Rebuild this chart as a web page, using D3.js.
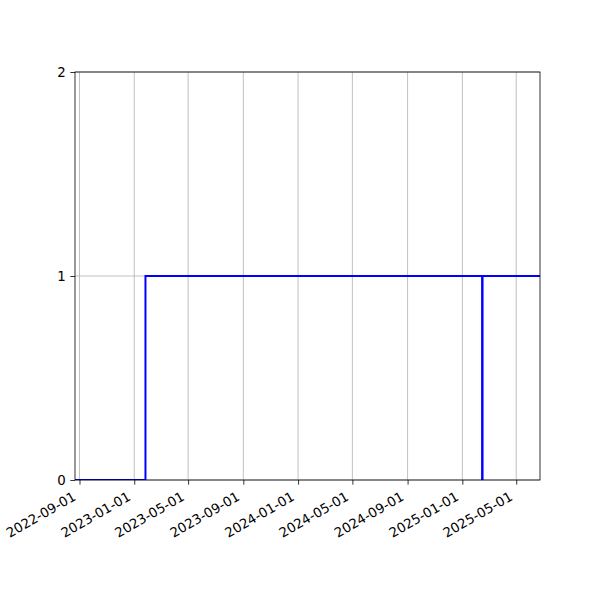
<!DOCTYPE html>
<html>
<head>
<meta charset="utf-8">
<script src="https://cdn.jsdelivr.net/npm/d3@7"></script>
<style>
body { margin: 0; background: #fff; }
text { font-family: "DejaVu Sans", sans-serif; }
</style>
</head>
<body>
<svg id="chart" width="600" height="600"></svg>
<script>
// Data
const dates = ["2022-08-22", "2023-01-26", "2025-02-14", "2025-02-15", "2025-06-23"];
const values = [0, 1, 0, 1, 1];
const xTickLabels = ["2022-09-01", "2023-01-01", "2023-05-01", "2023-09-01", "2024-01-01",
                     "2024-05-01", "2024-09-01", "2025-01-01", "2025-05-01"];
const yTicks = [0, 1, 2];

const parse = d3.utcParse("%Y-%m-%d");
const data = dates.map((d, i) => ({ date: parse(d), value: values[i] }));

const margin = { left: 75, right: 60, top: 72, bottom: 120 };
const W = 600, H = 600;
const iw = W - margin.left - margin.right;
const ih = H - margin.top - margin.bottom;

const svg = d3.select("#chart");
const g = svg.append("g").attr("transform", `translate(${margin.left},${margin.top})`);

const x = d3.scaleUtc().domain(d3.extent(data, d => d.date)).range([0, iw]);
const y = d3.scaleLinear().domain([0, 2]).range([ih, 0]);

// grid
const tickDates = xTickLabels.map(parse);
g.append("g").selectAll("line.vg").data(tickDates).join("line")
  .attr("x1", d => x(d)).attr("x2", d => x(d))
  .attr("y1", 0).attr("y2", ih)
  .attr("stroke", "#b0b0b0").attr("stroke-width", 0.8);
g.append("g").selectAll("line.hg").data(yTicks).join("line")
  .attr("x1", 0).attr("x2", iw)
  .attr("y1", d => y(d)).attr("y2", d => y(d))
  .attr("stroke", "#b0b0b0").attr("stroke-width", 0.8);

// clip
svg.append("defs").append("clipPath").attr("id", "clip")
  .append("rect").attr("width", iw).attr("height", ih);

const line = d3.line().x(d => x(d.date)).y(d => y(d.value)).curve(d3.curveStepAfter);
g.append("path").datum(data)
  .attr("clip-path", "url(#clip)")
  .attr("d", line)
  .attr("fill", "none")
  .attr("stroke", "#0000ff")
  .attr("stroke-width", 2)
  .attr("stroke-linejoin", "miter");

// spines
g.append("rect").attr("width", iw).attr("height", ih)
  .attr("fill", "none").attr("stroke", "#000").attr("stroke-width", 0.8);

// x axis
const fmt = d3.utcFormat("%Y-%m-%d");
const xAxis = g.append("g").attr("transform", `translate(0,${ih})`)
  .call(d3.axisBottom(x).tickValues(tickDates).tickFormat(fmt).tickSize(4.67).tickSizeOuter(0));
xAxis.select(".domain").remove();
xAxis.selectAll(".tick line").attr("stroke-width", 0.8);
xAxis.selectAll(".tick text")
  .attr("font-size", "13.33px")
  .attr("fill", "#000")
  .attr("text-anchor", "end")
  .attr("dy", null)
  .attr("y", 0)
  .attr("dominant-baseline", "hanging")
  .attr("transform", "translate(-8,11) rotate(-30)");

// y axis
const yAxis = g.append("g")
  .call(d3.axisLeft(y).tickValues(yTicks).tickFormat(d3.format("d")).tickSize(4.67).tickPadding(4.67).tickSizeOuter(0));
yAxis.select(".domain").remove();
yAxis.selectAll(".tick line").attr("stroke-width", 0.8);
yAxis.selectAll(".tick text").attr("font-size", "13.33px").attr("fill", "#000");
</script>
</body>
</html>
